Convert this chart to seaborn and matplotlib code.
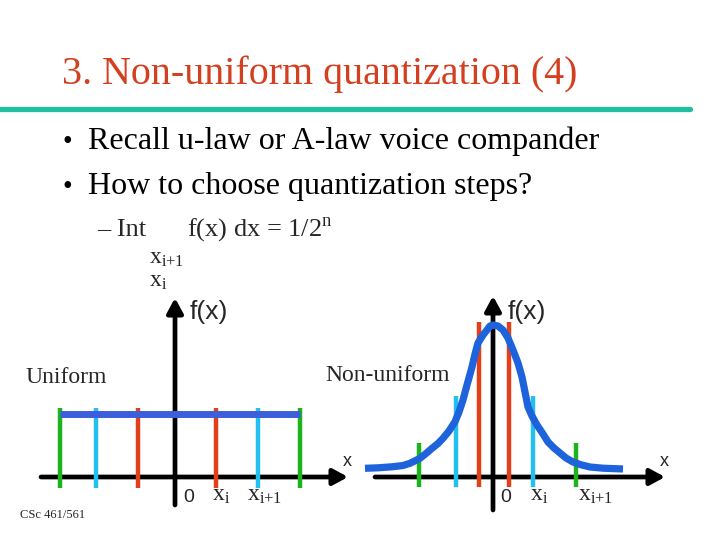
import matplotlib
matplotlib.use("Agg")
import matplotlib.pyplot as plt
from matplotlib.lines import Line2D
import seaborn as sns

# ---------------- data ----------------
title = "3. Non-uniform quantization (4)"
bullets = ["Recall u-law or A-law voice compander", "How to choose quantization steps?"]
footer = "CSc 461/561"

# uniform panel
uni_steps = [-11.5, -7.9, -3.7, 4.1, 8.3, 12.5]
uni_colors = ["#1db31d", "#22c0f0", "#e2401a", "#e2401a", "#22c0f0", "#1db31d"]
uni_level = 6.3
uni_span = [-11.5, 12.5]

# non-uniform panel: density curve
curve_x = [-12.8, -11.5, -10.0, -9.0, -8.3, -7.3, -6.7, -6.1, -5.5, -5.0, -4.4, -3.8,
           -3.4, -3.0, -2.6, -2.1, -1.8, -1.5, -1.0, -0.6, -0.3, 0.0, 0.5, 1.0,
           1.5, 2.0, 2.5, 2.9, 3.2, 3.5, 3.9, 4.4, 5.0, 5.5, 6.1, 6.7, 7.3, 8.0,
           8.8, 9.7, 11.0, 13.0]
curve_y = [0.87, 0.92, 1.03, 1.15, 1.37, 1.87, 2.35, 2.87, 3.35, 3.87, 4.6, 5.53,
           6.5, 7.7, 9.2, 11.0, 12.3, 13.4, 14.2, 14.7, 15.1, 15.2, 15.1, 14.7,
           13.9, 12.7, 11.4, 10.0, 8.5, 7.0, 6.1, 5.2, 4.3, 3.5, 2.9, 2.4, 1.9, 1.5,
           1.22, 1.0, 0.88, 0.8]
non_steps = [-7.4, -3.7, -1.4, 1.6, 4.0, 8.3]
non_tops = [3.4, 8.1, 15.5, 15.5, 8.1, 3.4]
non_colors = ["#1db31d", "#22c0f0", "#e2401a", "#e2401a", "#22c0f0", "#1db31d"]

# ---------------- style ----------------
sns.set_theme(style="white")
plt.rcParams["font.family"] = ["Liberation Serif", "DejaVu Serif"]
SERIF = ["Liberation Serif", "DejaVu Serif"]
SANS = ["Liberation Sans", "DejaVu Sans"]

W, H = 720, 540
fig = plt.figure(figsize=(7.2, 5.4), dpi=100)
fig.patch.set_facecolor("white")


def fx(px):
    return px / W


def fy(py):
    return 1 - py / H


SUB_I = r"$\mathregular{x_{i}}$"
SUB_I1 = r"$\mathregular{x_{i{+}1}}$"

# ---------------- slide text ----------------
fig.text(fx(62), fy(84), title, color="#d2401f", fontsize=28.8, family=SERIF, va="baseline")
fig.add_artist(Line2D([0, fx(690)], [fy(109), fy(109)], color="#1fbf9f", lw=3.8))
for i, b in enumerate(bullets):
    yb = 149 + i * 45
    fig.text(fx(62), fy(yb), "\u2022", fontsize=20, family=SERIF, va="baseline", color="black")
    fig.text(fx(88), fy(yb), b, fontsize=23, family=SERIF, va="baseline", color="black")
fig.text(fx(97), fy(236), "\u2013 Int", fontsize=19, family=SERIF, va="baseline")
fig.text(fx(187), fy(236), r"f(x) dx = 1/2$^{\mathregular{n}}$", fontsize=19, family=SERIF, va="baseline")
fig.text(fx(149), fy(264), SUB_I1, fontsize=17, family=SERIF, va="baseline")
fig.text(fx(149), fy(287), SUB_I, fontsize=17, family=SERIF, va="baseline")
fig.text(fx(25), fy(383), "Uniform", fontsize=17, family=SERIF, va="baseline")
fig.text(fx(325), fy(381), "Non-uniform", fontsize=17, family=SERIF, va="baseline")
fig.text(fx(20), fy(518), footer, fontsize=9, family=SERIF, va="baseline")

# ---------------- panels ----------------
axL = fig.add_axes([fx(20), fy(520), 340 / W, 230 / H])
axR = fig.add_axes([fx(360), fy(520), 340 / W, 230 / H])
axL.set_xlim(-15.5, 18.5)
axR.set_xlim(-13.3, 20.7)
for ax in (axL, axR):
    ax.set_ylim(-4.3, 18.7)
    ax.set_axis_off()
    ax.patch.set_alpha(0)

arrow = dict(arrowstyle="-|>,head_length=0.55,head_width=0.3", color="black",
             lw=3.4, shrinkA=0, shrinkB=0, mutation_scale=16)


def draw_axes(ax, x0, x1, y0, y1):
    ax.annotate("", xy=(x1, 0), xytext=(x0, 0), arrowprops=arrow, zorder=1)
    ax.annotate("", xy=(0, y1), xytext=(0, y0), arrowprops=arrow, zorder=1)


# left: uniform
draw_axes(axL, -13.4, 17.3, -2.8, 17.9)
axL.vlines(uni_steps, -1.1, 6.9, colors=uni_colors, lw=3.2, zorder=3)
sns.lineplot(x=uni_span, y=[uni_level, uni_level], ax=axL, color="#3b5fdb", lw=5, zorder=4,
             solid_capstyle="butt")
axL.text(1.5, 16.5, "f(x)", fontsize=19, family=SANS, va="center")
axL.text(1.4, -2.1, "0", fontsize=14, family=SANS, va="center", ha="center")
axL.text(3.7, -2.4, SUB_I, fontsize=17, family=SERIF, va="baseline")
axL.text(7.2, -2.4, SUB_I1, fontsize=17, family=SERIF, va="baseline")
axL.text(16.8, 1.5, "x", fontsize=13, family=SANS, va="center")

# right: non-uniform
draw_axes(axR, -11.8, 17.2, -3.3, 18.1)
axR.vlines(non_steps, -1.0, non_tops, colors=non_colors, lw=3.2, zorder=3)
sns.lineplot(x=curve_x, y=curve_y, ax=axR, sort=False, color="#1e63dc", lw=5.2, zorder=4,
             solid_joinstyle="round", solid_capstyle="butt")
axR.text(1.5, 16.5, "f(x)", fontsize=19, family=SANS, va="center")
axR.text(1.3, -2.1, "0", fontsize=14, family=SANS, va="center", ha="center")
axR.text(3.7, -2.4, SUB_I, fontsize=17, family=SERIF, va="baseline")
axR.text(8.5, -2.4, SUB_I1, fontsize=17, family=SERIF, va="baseline")
axR.text(16.7, 1.5, "x", fontsize=13, family=SANS, va="center")

fig.savefig("out.png", dpi=100, facecolor="white")
